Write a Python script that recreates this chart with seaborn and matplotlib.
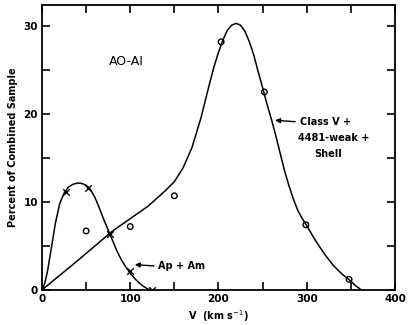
import numpy as np
import pandas as pd
import seaborn as sns
import matplotlib.pyplot as plt

# Measured points
ap_v = [27, 52, 77, 100, 125]
ap_pct = [11.1, 11.6, 6.4, 2.1, 0.0]
cls_v = [50, 100, 150, 203, 252, 299, 348]
cls_pct = [6.7, 7.2, 10.7, 28.2, 22.5, 7.4, 1.2]

# Hand-drawn fit curves
ap_curve_v = [0, 3, 6, 10, 15, 20, 25, 30, 35, 40, 45, 50, 55, 60, 65, 70, 75,
              80, 85, 90, 95, 100, 105, 110, 115, 120, 123]
ap_curve_pct = [0.0, 0.7, 2.0, 4.4, 7.5, 9.8, 11.0, 11.7, 12.0, 12.15, 12.1, 11.9,
                11.4, 10.5, 9.3, 8.0, 6.8, 5.6, 4.4, 3.4, 2.6, 1.9, 1.3, 0.8, 0.4, 0.1, 0.0]
cls_curve_v = [0, 20, 40, 60, 80, 90, 100, 110, 120, 130, 140, 150, 160, 170, 180, 185,
               190, 195, 200, 205, 210, 215, 220, 225, 230, 235, 240, 245, 250, 255,
               260, 265, 270, 275, 280, 285, 290, 295, 300, 310, 320, 330, 340, 350,
               355, 362]
cls_curve_pct = [0.0, 1.65, 3.3, 5.0, 6.7, 7.4, 8.1, 8.8, 9.5, 10.4, 11.3, 12.3, 13.9,
                 16.2, 19.5, 21.5, 23.5, 25.4, 27.0, 28.4, 29.5, 30.1, 30.3, 30.1, 29.4,
                 28.2, 26.7, 24.8, 23.0, 21.1, 19.4, 17.5, 15.5, 13.5, 11.8, 10.3, 9.0,
                 8.1, 7.3, 5.6, 4.1, 2.8, 1.8, 1.0, 0.5, 0.0]

sns.set_style("ticks")
plt.rcParams["font.family"] = ["DejaVu Sans"]
plt.rcParams["text.color"] = "black"
plt.rcParams["axes.labelcolor"] = "black"
plt.rcParams["xtick.color"] = "black"
plt.rcParams["ytick.color"] = "black"
plt.rcParams["axes.edgecolor"] = "black"

fig = plt.figure(figsize=(4.08, 3.25), dpi=100)
ax = fig.add_axes([0.103, 0.108, 0.865, 0.877])

sns.lineplot(x=ap_curve_v, y=ap_curve_pct, sort=False, estimator=None,
             color="black", linewidth=1.1, ax=ax)
sns.lineplot(x=cls_curve_v, y=cls_curve_pct, sort=False, estimator=None,
             color="black", linewidth=1.1, ax=ax)
sns.scatterplot(x=ap_v, y=ap_pct, marker="x", s=22, color="black", linewidth=1.0, ax=ax)
sns.scatterplot(x=cls_v, y=cls_pct, marker="o", s=16, facecolor="none",
                edgecolor="black", linewidth=1.0, ax=ax)

ax.set_xlim(0, 400)
ax.set_ylim(0, 32.4)
ax.set_xticks(np.arange(0, 401, 50))
ax.set_xticklabels(["0", "", "100", "", "200", "", "300", "", "400"], fontweight="bold")
ax.set_yticks(np.arange(0, 31, 5))
ax.set_yticklabels(["0", "", "10", "", "20", "", "30"], fontweight="bold")
ax.tick_params(direction="in", length=6, width=1.2, top=True, right=True,
               labelsize=7.5, pad=3)
for sp in ax.spines.values():
    sp.set_linewidth(1.3)

ax.set_xlabel("V  (km s$^{-1}$)", fontsize=7, fontweight="bold", labelpad=3)
ax.set_ylabel("Percent of Combined Sample", fontsize=7, fontweight="bold", labelpad=4)

ax.text(96, 26, "AO-AI", fontsize=9, ha="center", va="center")
ax.text(292, 19.1, "Class Ⅴ +", fontsize=7, fontweight="bold", va="center")
ax.text(290, 17.3, "4481-weak +", fontsize=7, fontweight="bold", va="center")
ax.text(308, 15.4, "Shell", fontsize=7, fontweight="bold", va="center")
ax.annotate("", xy=(261, 19.3), xytext=(290, 19.1),
            arrowprops=dict(arrowstyle="-|>", color="black", lw=1.0, mutation_scale=7))
ax.text(132, 2.7, "Ap + Am", fontsize=7, fontweight="bold", va="center")
ax.annotate("", xy=(102, 2.9), xytext=(130, 2.7),
            arrowprops=dict(arrowstyle="-|>", color="black", lw=1.0, mutation_scale=7))

fig.savefig("out.png", dpi=100)
